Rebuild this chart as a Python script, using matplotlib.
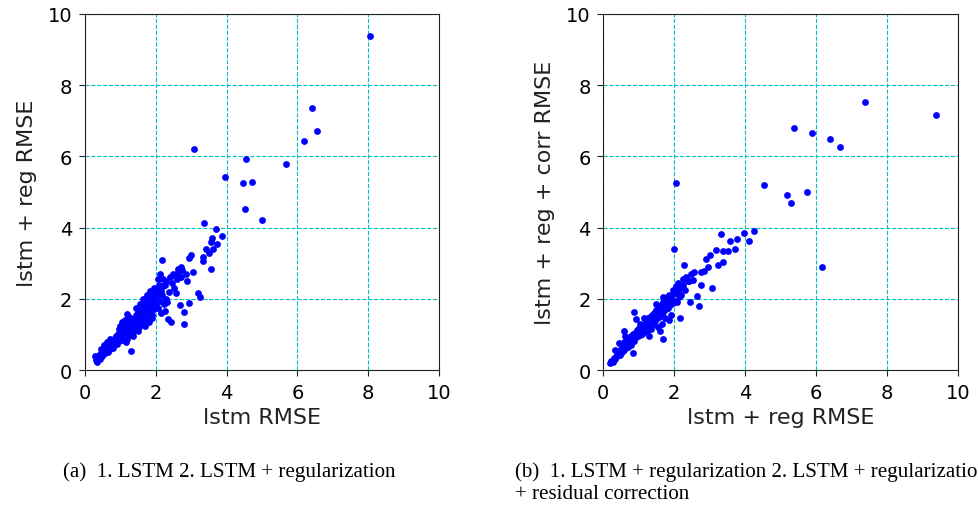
import matplotlib
matplotlib.use('Agg')
import matplotlib.pyplot as plt

# (a) lstm RMSE vs lstm + reg RMSE
lstm_rmse = [
    0.32, 0.35, 0.28, 0.38, 0.40, 0.42, 0.45, 0.47, 0.50, 0.52, 0.55, 0.57, 0.60, 0.62,
    0.64, 0.66, 0.68, 0.70, 0.72, 0.74, 0.76, 0.78, 0.80, 0.45, 0.55, 0.62, 0.70,
    0.82, 0.84, 0.86, 0.88, 0.90, 0.92, 0.94, 0.96, 0.98, 1.00, 1.02, 1.04, 1.06, 1.08,
    1.10, 1.12, 1.14, 1.16, 1.18, 1.20, 1.22, 1.24, 1.26, 1.28, 1.30, 1.32, 1.34, 1.36,
    1.38, 1.40, 1.00, 1.05, 1.12, 1.18, 1.25, 0.95, 1.15, 1.29, 1.35, 1.20,
    1.42, 1.44, 1.46, 1.48, 1.50, 1.52, 1.54, 1.56, 1.58, 1.60, 1.62, 1.64, 1.66, 1.68,
    1.70, 1.72, 1.74, 1.76, 1.78, 1.80, 1.82, 1.84, 1.86, 1.88, 1.90, 1.92, 1.94, 1.96,
    1.98, 2.00, 1.45, 1.55, 1.65, 1.75, 1.85, 1.50, 1.70, 1.80, 1.60, 1.90, 1.95, 1.52,
    1.68, 1.72, 1.88,
    2.02, 2.04, 2.06, 2.08, 2.10, 2.12, 2.14, 2.16, 2.18, 2.20, 2.22, 2.26, 2.28, 2.30,
    2.32, 2.35, 2.38, 2.40, 2.44, 2.46, 2.50, 2.52, 2.55, 2.58, 2.62, 2.12, 2.17, 2.20,
    2.25, 2.05,
    2.64, 2.68, 2.70, 2.75, 2.80, 2.81, 2.88, 2.95, 2.95, 3.00, 3.06, 2.60, 2.72, 2.85,
    3.20, 3.24, 3.32, 3.34, 3.43, 3.56, 3.56, 3.59, 3.62, 3.73, 3.69, 3.88, 3.37, 3.50,
    3.09, 3.96, 4.47, 4.51, 4.56, 4.71, 4.99, 5.67, 6.18, 6.42, 6.55, 8.06,
]
lstm_reg_rmse_a = [
    0.28, 0.23, 0.40, 0.35, 0.42, 0.30, 0.48, 0.38, 0.52, 0.44, 0.58, 0.47, 0.62, 0.55,
    0.68, 0.50, 0.72, 0.60, 0.78, 0.66, 0.70, 0.84, 0.62, 0.60, 0.70, 0.80, 0.88,
    0.75, 0.90, 0.80, 0.95, 0.72, 0.86, 1.00, 0.82, 0.95, 1.08, 0.90, 1.02, 0.85, 1.15,
    0.98, 1.10, 0.92, 1.22, 1.05, 1.30, 1.12, 0.98, 1.25, 1.15, 1.38, 1.05, 1.28, 1.20,
    1.45, 1.12, 1.25, 1.35, 1.40, 1.58, 1.50, 1.15, 0.80, 0.54, 0.95, 0.88,
    1.35, 1.55, 1.28, 1.48, 1.62, 1.40, 1.20, 1.55, 1.70, 1.45, 1.60, 1.78, 1.50, 1.65,
    1.85, 1.40, 1.72, 1.90, 1.58, 1.80, 1.95, 1.65, 2.05, 1.75, 1.90, 2.10, 1.70, 2.00,
    2.20, 1.85, 1.75, 1.85, 2.00, 2.10, 2.22, 1.10, 1.25, 1.35, 1.30, 1.55, 2.30, 1.65,
    1.88, 1.55, 1.45,
    2.05, 2.30, 1.75, 2.15, 2.40, 1.95, 2.22, 1.60, 2.10, 2.35, 1.85, 1.67, 2.00, 2.50,
    1.90, 1.44, 2.20, 2.60, 1.36, 2.45, 2.70, 2.30, 2.65, 2.15, 2.75, 2.70, 3.08, 2.55,
    2.40, 2.55,
    2.84, 1.83, 2.60, 2.80, 1.64, 1.29, 2.51, 1.87, 3.14, 3.22, 2.75, 2.55, 2.90, 2.70,
    2.15, 2.05, 3.17, 3.05, 3.41, 3.59, 2.84, 3.71, 3.39, 3.55, 3.95, 3.76, 4.14, 3.30,
    6.21, 5.43, 5.24, 4.51, 5.93, 5.29, 4.22, 5.79, 6.43, 7.36, 6.71, 9.39,
]

# (b) lstm + reg RMSE vs lstm + reg + corr RMSE
lstm_reg_rmse_b = [
    0.19, 0.22, 0.28, 0.30, 0.35, 0.38, 0.40, 0.44, 0.48, 0.50, 0.52, 0.55, 0.58, 0.60,
    0.62, 0.65, 0.68, 0.70, 0.72, 0.75, 0.78, 0.80, 0.83, 0.59, 0.45, 0.62, 0.35,
    0.82, 0.85, 0.88, 0.88, 0.93, 0.90, 0.92, 0.95, 0.98, 1.00, 1.02, 1.04, 1.06, 1.08,
    1.10, 1.12, 1.14, 1.16, 1.18, 1.20, 1.22, 1.24, 1.26, 1.28, 1.30, 1.32, 1.34, 1.36,
    1.38, 1.40, 1.05, 1.15, 1.25, 1.35, 1.30,
    1.42, 1.44, 1.46, 1.48, 1.50, 1.52, 1.54, 1.56, 1.58, 1.60, 1.62, 1.64, 1.66, 1.68,
    1.69, 1.70, 1.72, 1.74, 1.76, 1.78, 1.80, 1.82, 1.84, 1.86, 1.88, 1.90, 1.92, 1.94,
    1.96, 1.98, 1.55, 1.65, 1.75, 1.85, 1.50, 1.70, 1.60,
    2.00, 2.02, 2.05, 2.08, 2.10, 2.12, 2.14, 2.16, 2.18, 2.20, 2.24, 2.26, 2.30, 2.34,
    2.40, 2.45, 2.43, 2.49, 2.54, 2.29, 2.00, 2.66, 2.71, 2.55,
    2.76, 2.83, 2.90, 2.97, 3.00, 3.08, 2.76, 3.19, 3.25, 3.39, 3.38, 3.53, 3.58, 3.73,
    3.77, 3.32, 3.97, 4.10, 4.24,
    2.06, 4.52, 5.19, 5.30, 5.74, 6.17, 5.39, 5.89, 6.40, 6.67, 7.37, 9.39,
]
lstm_reg_corr_rmse = [
    0.19, 0.25, 0.22, 0.35, 0.30, 0.45, 0.38, 0.52, 0.42, 0.60, 0.50, 0.70, 0.55, 0.78,
    0.62, 0.72, 0.85, 0.65, 0.90, 0.75, 0.95, 0.70, 0.49, 1.10, 0.75, 0.95, 0.55,
    0.88, 1.00, 0.82, 1.64, 1.43, 1.05, 0.92, 1.12, 0.95, 1.05, 1.18, 0.98, 1.10, 1.25,
    1.02, 1.15, 1.30, 1.08, 1.22, 1.38, 1.15, 1.28, 1.45, 1.20, 1.35, 1.50, 1.25, 1.40,
    1.55, 1.30, 1.30, 1.45, 1.10, 1.15, 0.95,
    1.45, 1.60, 1.38, 1.52, 1.68, 1.45, 1.58, 1.75, 1.50, 1.65, 1.82, 1.55, 1.72, 1.90,
    0.87, 1.62, 1.80, 1.98, 1.70, 1.88, 2.05, 1.75, 1.95, 2.12, 1.82, 2.00, 1.55, 2.10,
    1.88, 2.25, 1.20, 1.30, 1.45, 1.40, 1.85, 2.05, 1.10,
    1.95, 2.15, 2.35, 1.90, 2.20, 2.45, 2.05, 1.47, 2.30, 2.10, 2.55, 2.40, 2.25, 2.62,
    2.50, 1.92, 2.51, 2.70, 2.54, 2.94, 3.41, 2.07, 1.81, 2.75,
    2.75, 2.78, 3.12, 2.89, 3.22, 2.30, 2.39, 3.36, 2.96, 3.03, 3.34, 3.34, 3.62, 3.41,
    3.67, 3.81, 3.86, 3.62, 3.91,
    5.24, 5.19, 4.91, 4.68, 5.00, 2.89, 6.81, 6.67, 6.48, 6.26, 7.54, 7.17,
]

ticks = [0, 2, 4, 6, 8, 10]

fig = plt.figure(figsize=(9.79, 5.10), dpi=100)
ax1 = fig.add_axes([0.0868, 0.2725, 0.3616, 0.6981])
ax2 = fig.add_axes([0.616, 0.2725, 0.3626, 0.6981])

for ax, x, y, xl, yl in [
    (ax1, lstm_rmse, lstm_reg_rmse_a, 'lstm RMSE', 'lstm + reg RMSE'),
    (ax2, lstm_reg_rmse_b, lstm_reg_corr_rmse, 'lstm + reg RMSE', 'lstm + reg + corr RMSE'),
]:
    ax.scatter(x, y, s=24, c='b', linewidths=0, zorder=3)
    ax.set_xlim(0, 10)
    ax.set_ylim(0, 10)
    ax.set_xticks(ticks)
    ax.set_yticks(ticks)
    ax.grid(True, color='c', linestyle='--', linewidth=0.8)
    ax.set_axisbelow(True)
    ax.tick_params(labelsize=14, length=4, pad=5, color='#222222')
    ax.set_xlabel(xl, fontsize=16, color='#222222', labelpad=4)
    ax.set_ylabel(yl, fontsize=16, color='#222222', labelpad=8)
    for s in ax.spines.values():
        s.set_color('#222222')

serif = ['Liberation Serif', 'DejaVu Serif']
fig.text(63 / 979, 1 - 472 / 510, '(a)  1. LSTM 2. LSTM + regularization',
         family=serif, fontsize=15.1, va='center', ha='left')
fig.text(515 / 979, 1 - 472 / 510, '(b)  1. LSTM + regularization 2. LSTM + regularization',
         family=serif, fontsize=15.1, va='center', ha='left')
fig.text(515 / 979, 1 - 495 / 510, '+ residual correction',
         family=serif, fontsize=15.1, va='center', ha='left')

fig.savefig('out.png', dpi=100)
